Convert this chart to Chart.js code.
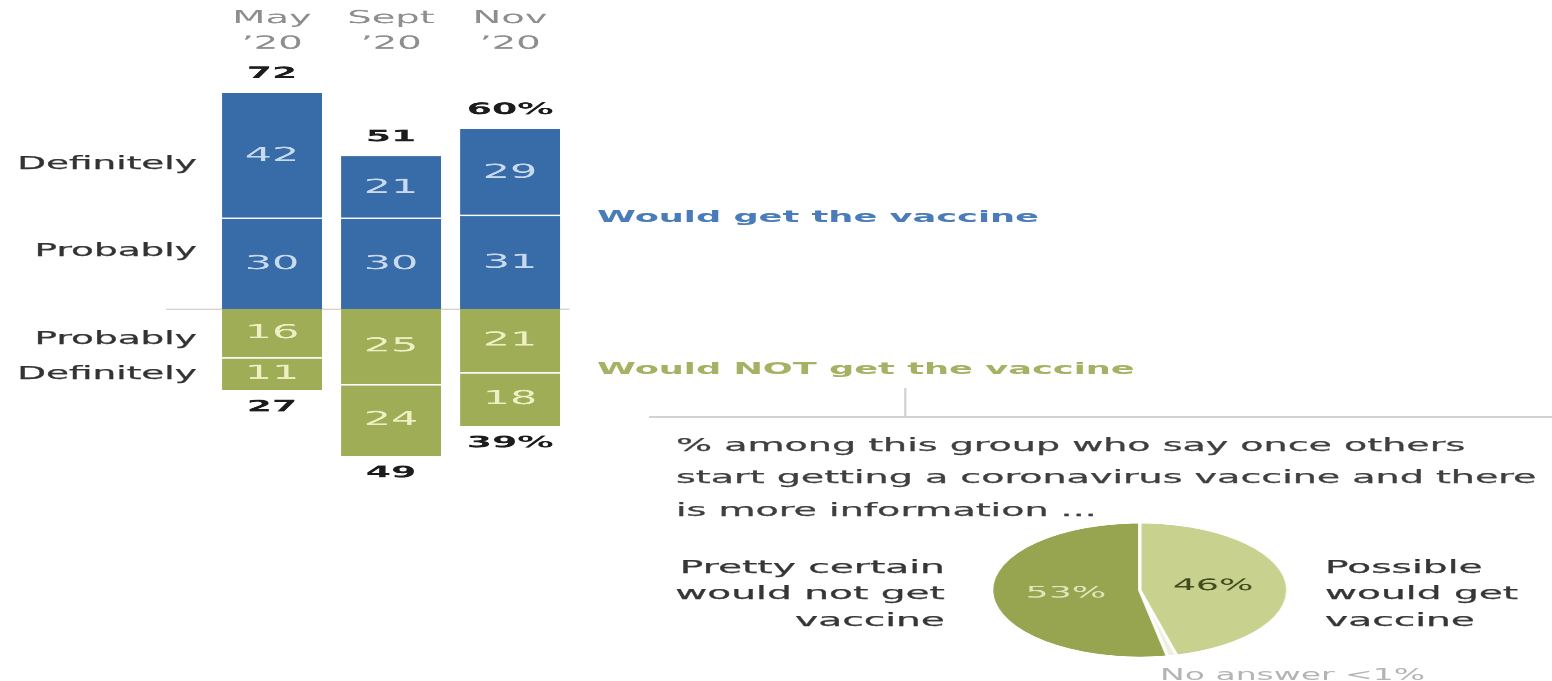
<!DOCTYPE html>
<html>
<head>
<meta charset="UTF-8">
<title>Would get / would not get the vaccine</title>
<script src="https://cdn.jsdelivr.net/npm/chart.js@4.4.0/dist/chart.umd.min.js"></script>
<style>
    html, body { margin: 0; padding: 0; background: #fff; overflow: hidden; }
    body { width: 1552px; height: 681px; font-family: 'DejaVu Sans', sans-serif; }
    /* the reference is stretched sideways, so the whole stage is too */
    #stage { position: absolute; left: 0; top: 0; width: 705.45px; height: 681px;
             transform: scaleX(2.2); transform-origin: 0 0; }
    #barBox { position: absolute; left: 0; top: 0; width: 705.45px; height: 681px; }
    #pieBox { position: absolute; left: 449.7px; top: 522px; width: 136px; height: 136px; }
    .t { position: absolute; white-space: nowrap; line-height: 1; -webkit-text-stroke: 0.25px currentColor; }
    .rowlab { right: 615.95px; text-align: right; font-size: 17px; color: #333; }
    .grp { left: 271.4px; font-size: 16px; font-weight: bold; -webkit-text-stroke: 0; }
    .rule { position: absolute; background: #d2d2d2; }
    .note { left: 307.3px; top: 428.7px; font-size: 17.3px; line-height: 32.5px; color: #3f3f3f; }
    .pielab { top: 553.7px; font-size: 17.8px; line-height: 26.5px; color: #363636; }
</style>
</head>
<body>
<div id="stage">
    <div id="barBox"><canvas id="bars"></canvas></div>

    <div class="t rowlab" style="top:154.5px">Definitely</div>
    <div class="t rowlab" style="top:241.5px">Probably</div>
    <div class="t rowlab" style="top:329.5px">Probably</div>
    <div class="t rowlab" style="top:364.5px">Definitely</div>

    <div class="t grp" style="top:209px; color:#4a7cba">Would get the vaccine</div>
    <div class="t grp" style="top:361px; color:#a6b163">Would NOT get the vaccine</div>

    <div class="rule" style="left:411.4px; top:388px; width:0.5px; height:28px"></div>
    <div class="rule" style="left:294.5px; top:416px; width:411px; height:1.5px"></div>

    <div class="t note">% among this group who say once others<br>start getting a coronavirus vaccine and there<br>is more information ...</div>

    <div class="t pielab" style="right:275.95px; text-align:right">Pretty certain<br>would not get<br>vaccine</div>
    <div class="t pielab" style="left:602.3px">Possible<br>would get<br>vaccine</div>
    <div class="t" style="left:527.3px; top:667.5px; font-size:15px; color:#b4b4b4; -webkit-text-stroke:0">No answer &lt;1%</div>

    <div id="pieBox"><canvas id="pie"></canvas></div>
</div>

<script>
    // survey waves
    const months = [['May', '\u201920'], ['Sept', '\u201920'], ['Nov', '\u201920']];

    // would get the vaccine (%)
    const yesProbably = [30, 30, 31];
    const yesDefinitely = [42, 21, 29];

    // would NOT get the vaccine (%)
    const noProbably = [16, 25, 21];
    const noDefinitely = [11, 24, 18];

    // among those who would not get it
    const pieLabels = ['Possible would get vaccine', 'No answer', 'Pretty certain would not get vaccine'];
    const pieValues = [46, 1, 53];

    const BLUE = '#376ca8';
    const GREEN = '#a0ad57';

    Chart.defaults.font.family = "'DejaVu Sans', sans-serif";

    // zero line, drawn under the bars
    const zeroLine = {
        id: 'zeroLine',
        beforeDatasetsDraw(chart) {
            const ctx = chart.ctx;
            const y0 = chart.scales.y.getPixelForValue(0);
            ctx.save();
            ctx.strokeStyle = '#c9c5bd';
            ctx.lineWidth = 1;
            ctx.beginPath();
            ctx.moveTo(75.5, y0);
            ctx.lineTo(chart.chartArea.right, y0);
            ctx.stroke();
            ctx.restore();
        }
    };

    // numbers inside segments and the net totals above / below each bar
    const barLabels = {
        id: 'barLabels',
        afterDatasetsDraw(chart) {
            const ctx = chart.ctx;
            ctx.save();
            ctx.textAlign = 'center';
            ctx.textBaseline = 'middle';
            chart.data.datasets.forEach((ds, di) => {
                const meta = chart.getDatasetMeta(di);
                ctx.font = "19.5px 'DejaVu Sans'";
                ctx.fillStyle = di < 2 ? '#c9daef' : '#eef0c4';
                meta.data.forEach((bar, i) => {
                    const p = bar.getProps(['x', 'y', 'base'], true);
                    ctx.fillText(Math.abs(ds.data[i]), p.x, (p.y + p.base) / 2);
                });
            });

            const topMeta = chart.getDatasetMeta(1);
            const botMeta = chart.getDatasetMeta(3);
            ctx.font = "bold 16.5px 'DejaVu Sans'";
            ctx.fillStyle = '#1c1c1c';
            months.forEach((m, i) => {
                const pct = i === months.length - 1 ? '%' : '';
                const t = topMeta.data[i].getProps(['x', 'y'], true);
                const b = botMeta.data[i].getProps(['x', 'y'], true);
                ctx.fillText((yesProbably[i] + yesDefinitely[i]) + pct, t.x, t.y - 19);
                ctx.fillText((noProbably[i] + noDefinitely[i]) + pct, b.x, b.y + 17);
            });
            ctx.restore();
        }
    };

    new Chart(document.getElementById('bars'), {
        type: 'bar',
        data: {
            labels: months,
            datasets: [
                { label: 'Would get - probably', data: yesProbably, backgroundColor: BLUE, borderWidth: 0 },
                { label: 'Would get - definitely', data: yesDefinitely, backgroundColor: BLUE,
                  borderColor: 'rgba(255,255,255,0.85)', borderSkipped: false,
                  borderWidth: { top: 0, right: 0, bottom: 1.5, left: 0 } },
                { label: 'Would not - probably', data: noProbably.map(v => -v), backgroundColor: GREEN, borderWidth: 0 },
                { label: 'Would not - definitely', data: noDefinitely.map(v => -v), backgroundColor: GREEN,
                  borderColor: 'rgba(255,255,255,0.85)', borderSkipped: false,
                  borderWidth: { top: 1.5, right: 0, bottom: 0, left: 0 } }
            ]
        },
        options: {
            responsive: true,
            maintainAspectRatio: false,
            animation: false,
            devicePixelRatio: 2.2,
            layout: { padding: { left: 96.6, right: 446.5, top: 0, bottom: 0 } },
            datasets: { bar: { categoryPercentage: 1, barPercentage: 0.84 } },
            plugins: { legend: { display: false }, tooltip: { enabled: false } },
            scales: {
                x: {
                    position: 'top',
                    stacked: true,
                    grid: { display: false, drawTicks: false },
                    border: { display: false },
                    ticks: { color: '#8e8e8e', font: { size: 17.5, lineHeight: 1.47 }, padding: 3,
                             maxRotation: 0, autoSkip: false },
                    afterFit(scale) { scale.height = 60; }
                },
                y: { stacked: true, display: false, min: -124, max: 83 }
            }
        },
        plugins: [zeroLine, barLabels]
    });

    // percentages inside the pie
    const pieText = {
        id: 'pieText',
        afterDatasetsDraw(chart) {
            const ctx = chart.ctx;
            const meta = chart.getDatasetMeta(0);
            ctx.save();
            ctx.font = "16.5px 'DejaVu Sans'";
            ctx.textAlign = 'center';
            ctx.textBaseline = 'middle';
            meta.data.forEach((arc, i) => {
                if (pieValues[i] < 5) return;
                const p = arc.tooltipPosition();
                ctx.fillStyle = i === 0 ? '#3e491d' : '#e2e6bc';
                ctx.fillText(pieValues[i] + '%', p.x, p.y);
            });
            ctx.restore();
        }
    };

    new Chart(document.getElementById('pie'), {
        type: 'pie',
        data: {
            labels: pieLabels,
            datasets: [{
                data: pieValues,
                backgroundColor: ['#c8d18d', '#eef0df', '#97a450'],
                borderColor: '#ffffff',
                borderWidth: 1.5
            }]
        },
        options: {
            responsive: true,
            maintainAspectRatio: false,
            animation: false,
            devicePixelRatio: 2.2,
            plugins: { legend: { display: false }, tooltip: { enabled: false } }
        },
        plugins: [pieText]
    });
</script>
</body>
</html>
